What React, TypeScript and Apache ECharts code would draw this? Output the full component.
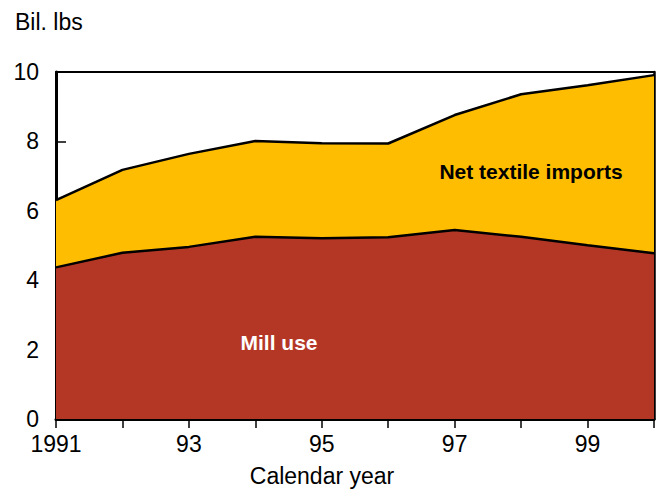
import React, { useEffect, useRef } from "react";
import * as echarts from "echarts";

const years = ["1991", "1992", "1993", "1994", "1995", "1996", "1997", "1998", "1999", "2000"];
const xTickLabels = ["1991", "", "93", "", "95", "", "97", "", "99", ""];
const millUse = [4.37, 4.79, 4.96, 5.25, 5.21, 5.24, 5.45, 5.25, 5.01, 4.78];
const netTextileImports = [1.94, 2.39, 2.68, 2.76, 2.74, 2.7, 3.31, 4.11, 4.61, 5.13];
const yTicks = [0, 2, 4, 6, 8, 10];

const FONT = "Liberation Sans, Arial, sans-serif";

export default function App() {
  const ref = useRef<HTMLDivElement>(null);
  useEffect(() => {
    if (!ref.current) return;
    const chart = echarts.init(ref.current, undefined, { renderer: "svg" });
    chart.setOption({
      animation: false,
      backgroundColor: "#ffffff",
      textStyle: { fontFamily: FONT },
      grid: { left: 56, right: 2, top: 72, bottom: 70, show: false },
      graphic: [
        {
          type: "text",
          left: 15,
          top: 10,
          style: { text: "Bil. lbs", font: `23px ${FONT}`, fill: "#000" },
        },
        {
          type: "text",
          x: 322,
          y: 476,
          style: {
            text: "Calendar year",
            font: `23px ${FONT}`,
            fill: "#000",
            align: "center",
            verticalAlign: "middle",
          },
        },
        {
          type: "text",
          x: 279,
          y: 342,
          style: {
            text: "Mill use",
            font: `bold 21px ${FONT}`,
            fill: "#ffffff",
            align: "center",
            verticalAlign: "middle",
          },
          z: 100,
        },
        {
          type: "text",
          x: 531,
          y: 171,
          style: {
            text: "Net textile imports",
            font: `bold 21px ${FONT}`,
            fill: "#000000",
            align: "center",
            verticalAlign: "middle",
          },
          z: 100,
        },
      ],
      xAxis: [
        {
          type: "category",
          data: years,
          boundaryGap: false,
          position: "bottom",
          axisLine: { show: true, onZero: false, lineStyle: { color: "#000", width: 3 } },
          axisTick: { show: true, inside: false, interval: 0, length: 9, lineStyle: { color: "#000", width: 1.5 } },
          axisLabel: {
            interval: 0,
            formatter: (_v: string, i: number) => xTickLabels[i],
            fontSize: 23,
            color: "#000",
            margin: 13,
            fontFamily: FONT,
          },
          splitLine: { show: false },
        },
        {
          type: "category",
          data: years,
          boundaryGap: false,
          position: "top",
          axisLine: { show: true, onZero: false, lineStyle: { color: "#000", width: 2 } },
          axisTick: { show: false },
          axisLabel: { show: false },
          splitLine: { show: false },
        },
      ],
      yAxis: [
        {
          type: "value",
          min: yTicks[0],
          max: yTicks[yTicks.length - 1],
          interval: 2,
          position: "left",
          axisLine: { show: true, onZero: false, lineStyle: { color: "#000", width: 3 } },
          axisTick: { show: true, inside: true, length: 10, lineStyle: { color: "#000", width: 1.5 } },
          axisLabel: { fontSize: 23, color: "#000", margin: 17, fontFamily: FONT },
          splitLine: { show: false },
        },
        {
          type: "value",
          min: 0,
          max: 10,
          interval: 2,
          position: "right",
          axisLine: { show: true, onZero: false, lineStyle: { color: "#000", width: 2.5 } },
          axisTick: { show: false },
          axisLabel: { show: false },
          splitLine: { show: false },
        },
      ],
      series: [
        {
          name: "Mill use",
          type: "line",
          stack: "total",
          data: millUse,
          showSymbol: false,
          symbol: "none",
          lineStyle: { color: "#000", width: 2.5 },
          areaStyle: { color: "#B43726", opacity: 1 },
          z: 3,
        },
        {
          name: "Net textile imports",
          type: "line",
          stack: "total",
          data: netTextileImports,
          showSymbol: false,
          symbol: "none",
          lineStyle: { color: "#000", width: 2.5 },
          areaStyle: { color: "#FEBD00", opacity: 1 },
          z: 2,
        },
      ],
    });
    return () => chart.dispose();
  }, []);
  return (
    <div
      ref={ref}
      style={{ position: "absolute", left: 0, top: 0, width: 657, height: 489 }}
    />
  );
}
